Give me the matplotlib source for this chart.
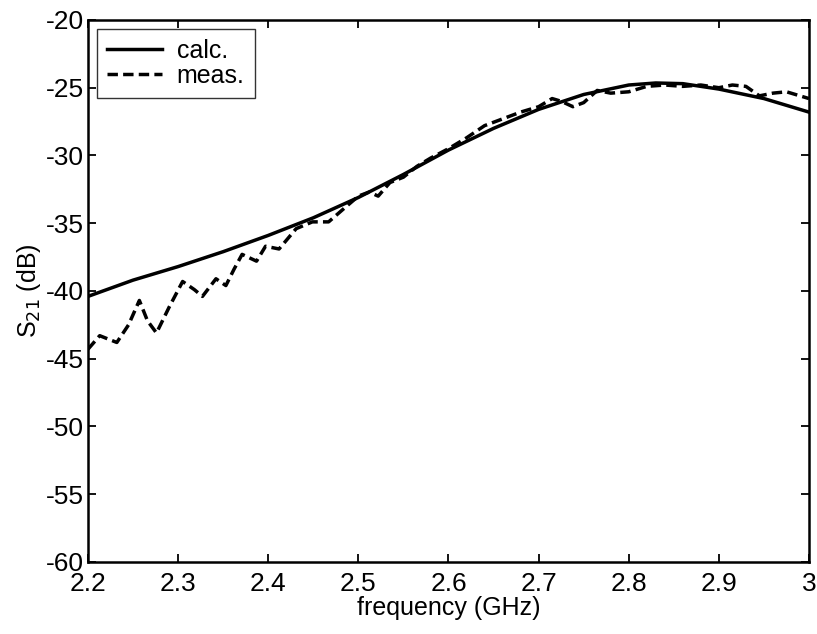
import matplotlib
matplotlib.use("Agg")
import matplotlib.pyplot as plt
import numpy as np

plt.rcParams['font.family'] = ['Liberation Sans', 'DejaVu Sans']
plt.rcParams['axes.unicode_minus'] = False

calc_f = [2.20, 2.25, 2.30, 2.35, 2.40, 2.45, 2.50, 2.55, 2.60, 2.65, 2.70, 2.75, 2.80, 2.83, 2.86, 2.90, 2.95, 3.00]
calc_db = [-40.4, -39.2, -38.2, -37.1, -35.9, -34.6, -33.1, -31.4, -29.6, -28.0, -26.6, -25.5, -24.8, -24.65, -24.7, -25.1, -25.8, -26.8]

meas_f = [2.200, 2.213, 2.232, 2.245, 2.257, 2.266, 2.276, 2.290, 2.305, 2.318, 2.327, 2.342, 2.353, 2.362, 2.371, 2.387,
          2.397, 2.412, 2.431, 2.449, 2.467, 2.486, 2.500, 2.512, 2.522, 2.535, 2.550, 2.565, 2.580, 2.600,
          2.620, 2.640, 2.660, 2.680, 2.700, 2.715, 2.725, 2.738, 2.750, 2.765, 2.780, 2.800, 2.820, 2.840,
          2.860, 2.880, 2.900, 2.915, 2.930, 2.945, 2.960, 2.975, 2.990, 3.000]
meas_db = [-44.3, -43.3, -43.8, -42.5, -40.7, -42.2, -43.1, -41.2, -39.3, -39.9, -40.4, -39.1, -39.6, -38.4, -37.3, -37.8,
           -36.7, -36.9, -35.4, -34.9, -34.9, -33.8, -33.0, -32.7, -33.0, -32.0, -31.6, -30.8, -30.2, -29.5,
           -28.7, -27.8, -27.3, -26.8, -26.4, -25.8, -26.0, -26.4, -26.1, -25.2, -25.4, -25.3, -24.9, -24.8,
           -24.9, -24.8, -25.0, -24.8, -24.9, -25.6, -25.4, -25.3, -25.6, -25.8]

fig = plt.figure(figsize=(8.17, 6.34), dpi=100)
ax = fig.add_axes([0.1077, 0.1136, 0.8825, 0.8549])

ax.plot(calc_f, calc_db, color='black', lw=2.5, linestyle='-', label='calc.')
ax.plot(meas_f, meas_db, color='black', lw=2.5, linestyle=(0, (3, 1.5)), label='meas.')

ax.set_xlim(2.2, 3.0)
ax.set_ylim(-60, -20)
ax.set_xticks(np.arange(2.2, 3.01, 0.1))
ax.set_xticklabels(['2.2', '2.3', '2.4', '2.5', '2.6', '2.7', '2.8', '2.9', '3'])
ax.set_yticks(np.arange(-60, -19, 5))
ax.tick_params(direction='in', top=True, right=True, labelsize=19, length=6, width=1.3)
ax.tick_params(axis='x', pad=7)
ax.tick_params(axis='y', pad=3)
for s in ax.spines.values():
    s.set_linewidth(1.8)

ax.set_xlabel('frequency (GHz)', fontsize=18, labelpad=0)
ax.set_ylabel('S$_{21}$ (dB)', fontsize=18, labelpad=2)

leg = ax.legend(loc='upper left', fontsize=18, frameon=True, fancybox=False, edgecolor='black',
                handlelength=2.2, handletextpad=0.6, borderaxespad=0.35, labelspacing=0.05,
                borderpad=0.4)
leg.get_frame().set_linewidth(1.0)

fig.savefig('out.png', dpi=100)
